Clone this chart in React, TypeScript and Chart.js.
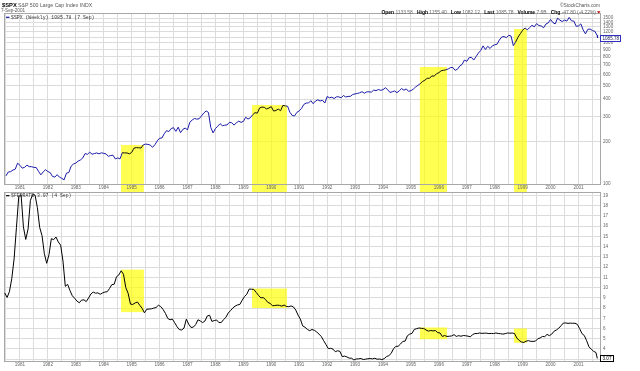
import React, { useEffect, useRef } from 'react';
import { Chart, registerables } from 'chart.js';

Chart.register(...registerables);

// ---------- DATA ----------
const START_YEAR = 1980;
const START_MONTH = 6; // first monthly value is June 1980

// S&P 500 month-end closes, Jun 1980 .. Aug 2001
const spxMonthlyClose = [
  114.24, 121.67, 122.38, 125.46, 127.47, 140.52, 135.76,
  129.55, 131.27, 136.0, 132.81, 132.59, 131.21, 130.92, 122.79, 116.18, 121.89, 126.35, 122.55,
  120.4, 113.11, 111.96, 116.44, 111.88, 109.61, 107.09, 119.51, 120.42, 133.71, 138.54, 140.64,
  145.3, 148.06, 152.96, 164.42, 162.39, 168.11, 162.56, 164.4, 166.07, 163.55, 166.4, 164.93,
  163.41, 157.06, 159.18, 160.05, 150.55, 153.18, 150.66, 166.68, 166.1, 166.09, 163.58, 167.24,
  179.63, 181.18, 180.66, 179.83, 189.55, 191.85, 190.92, 188.63, 182.08, 189.82, 202.17, 211.28,
  211.78, 226.92, 238.9, 235.52, 247.35, 250.84, 236.12, 252.93, 231.32, 243.98, 249.22, 242.17,
  274.08, 284.2, 291.7, 288.36, 290.1, 304.0, 318.66, 329.8, 321.83, 251.79, 230.3, 247.08,
  257.07, 267.82, 258.89, 261.33, 262.16, 273.5, 272.02, 261.52, 271.91, 278.97, 273.7, 277.72,
  297.47, 288.86, 294.87, 309.64, 320.52, 317.98, 346.08, 351.45, 349.15, 340.36, 345.99, 353.4,
  329.08, 331.89, 339.94, 330.8, 361.23, 358.02, 356.15, 322.56, 306.05, 304.0, 322.22, 330.22,
  343.93, 367.07, 375.22, 375.34, 389.83, 371.16, 387.81, 395.43, 387.86, 392.46, 375.22, 417.09,
  408.79, 412.7, 403.69, 414.95, 415.35, 408.14, 424.21, 414.03, 417.8, 418.68, 431.35, 435.71,
  438.78, 443.38, 451.67, 440.19, 450.19, 450.53, 448.13, 463.56, 458.93, 467.83, 461.79, 466.45,
  481.61, 467.14, 445.77, 450.91, 456.5, 444.27, 458.26, 475.49, 462.69, 472.35, 453.69, 459.27,
  470.42, 487.39, 500.71, 514.71, 533.4, 544.75, 562.06, 561.88, 584.41, 581.5, 605.37, 615.93,
  636.02, 640.43, 645.5, 654.17, 669.12, 670.63, 639.95, 651.99, 687.31, 705.27, 757.02, 740.74,
  786.16, 790.82, 757.12, 801.34, 848.28, 885.14, 954.29, 899.47, 947.28, 914.62, 955.4, 970.43,
  980.28, 1049.34, 1101.75, 1111.75, 1090.82, 1133.84, 1120.67, 957.28, 1017.01, 1098.67, 1163.63, 1229.23,
  1279.64, 1238.33, 1286.37, 1335.18, 1301.84, 1372.71, 1328.72, 1320.41, 1282.71, 1362.93, 1388.91, 1469.25,
  1394.46, 1366.42, 1498.58, 1452.43, 1420.6, 1454.6, 1430.83, 1517.68, 1436.51, 1429.4, 1314.95, 1320.28,
  1366.01, 1239.94, 1160.33, 1249.46, 1255.82, 1224.42, 1211.23, 1133.58,
];
const spxLastDate = 2001 + 249 / 365; // 7 Sep 2001
const spxLast = 1085.78;

// Fed funds rate, monthly, Jun 1980 .. Aug 2001
const fedRateMonthly = [
  9.47, 9.03, 9.61, 10.87, 12.81, 15.85, 18.9,
  19.08, 15.93, 14.7, 15.72, 18.52, 19.1, 19.04, 17.82, 15.87, 15.08, 13.31, 12.37,
  13.22, 14.78, 14.68, 14.94, 14.45, 14.15, 12.59, 10.12, 10.31, 9.71, 9.2, 8.95,
  8.68, 8.51, 8.77, 8.8, 8.63, 8.98, 9.37, 9.56, 9.45, 9.48, 9.34, 9.47,
  9.56, 9.59, 9.91, 10.29, 10.32, 11.06, 11.23, 11.64, 11.3, 9.99, 9.43, 8.38,
  8.35, 8.5, 8.58, 8.27, 7.97, 7.53, 7.88, 7.9, 7.92, 7.99, 8.05, 8.27,
  8.14, 7.86, 7.48, 6.99, 6.85, 6.92, 6.56, 6.17, 5.89, 5.85, 6.04, 6.91,
  6.43, 6.1, 6.13, 6.37, 6.85, 6.73, 6.58, 6.73, 7.22, 7.29, 6.69, 6.77,
  6.83, 6.58, 6.58, 6.87, 7.09, 7.51, 7.75, 8.01, 8.19, 8.3, 8.35, 8.76,
  9.12, 9.36, 9.85, 9.84, 9.81, 9.53, 9.24, 8.99, 9.02, 8.84, 8.55, 8.45,
  8.23, 8.24, 8.28, 8.26, 8.18, 8.29, 8.15, 8.13, 8.2, 8.11, 7.81, 7.31,
  6.91, 6.25, 6.12, 5.91, 5.78, 5.9, 5.82, 5.66, 5.45, 5.21, 4.81, 4.43,
  4.03, 4.06, 3.98, 3.73, 3.82, 3.76, 3.25, 3.3, 3.22, 3.1, 3.09, 2.92,
  3.02, 3.03, 3.07, 2.96, 3.0, 3.04, 3.06, 3.03, 3.09, 2.99, 3.02, 2.96,
  3.05, 3.25, 3.34, 3.56, 4.01, 4.25, 4.26, 4.47, 4.73, 4.76, 5.29, 5.45,
  5.53, 5.92, 5.98, 6.05, 6.01, 6.0, 5.85, 5.74, 5.8, 5.76, 5.8, 5.6,
  5.56, 5.22, 5.31, 5.22, 5.24, 5.27, 5.4, 5.22, 5.3, 5.24, 5.31, 5.29,
  5.25, 5.19, 5.39, 5.51, 5.5, 5.56, 5.52, 5.54, 5.54, 5.5, 5.52, 5.5,
  5.56, 5.51, 5.49, 5.45, 5.49, 5.56, 5.54, 5.55, 5.51, 5.07, 4.83, 4.68,
  4.63, 4.76, 4.81, 4.74, 4.74, 4.76, 4.99, 5.07, 5.22, 5.2, 5.42, 5.3,
  5.45, 5.73, 5.85, 6.02, 6.27, 6.53, 6.54, 6.5, 6.52, 6.51, 6.51, 6.4,
  5.98, 5.49, 5.31, 4.8, 4.21, 3.97, 3.77, 3.65,
];
const fedLastDate = 2001 + 246 / 365; // 4 Sep 2001
const fedLast = 3.07;

// axis ticks
const yearLabels = [1981, 1982, 1983, 1984, 1985, 1986, 1987, 1988, 1989, 1990, 1991,
  1992, 1993, 1994, 1995, 1996, 1997, 1998, 1999, 2000, 2001];
const spxTicks = [100, 200, 300, 400, 500, 600, 700, 800, 900, 1000, 1100, 1200, 1300, 1400, 1500];
const spxHiddenLabels = [1100];
const rateTicks = [3, 4, 5, 6, 7, 8, 9, 10, 11, 12, 13, 14, 15, 16, 17, 18, 19];
const rateHiddenLabels = [3];

// highlighted periods
const bandFrom = [1984.62, 1989.31, 1995.32, 1998.69];
const bandTo = [1985.44, 1990.56, 1996.29, 1999.15];
const bandSpxTop = [189, 363, 676, 1256];
const bandRateTop = [11.75, 9.9, 6.1, 6.0];
const bandRateBottom = [7.6, 8.0, 4.95, 4.6];

// header texts
const headSymbol = '$SPX';
const headName = 'S&P 500 Large Cap Index INDX';
const headDate = '7-Sep-2001';
const headCopyright = '\u00A9StockCharts.com';
const headStats: [string, string][] = [
  ['Open', '1133.58'], ['High', '1155.40'], ['Low', '1082.12'], ['Last', '1085.78'],
  ['Volume', '7.6B'], ['Chg', '-47.80 (-4.22%)'],
];
const spxLegend = '$SPX (Weekly) 1085.78 (7 Sep)';
const fedLegend = '$FEDRATE 3.07 (4 Sep)';

// ---------- STYLE ----------
const FONT = "'Liberation Sans', Arial, sans-serif";
const MONO = "'Liberation Mono', 'DejaVu Sans Mono', monospace";
const GRID = '#dcdcdc';
const BORDER = '#a8a8a8';
const TICK = '#666';
const BLUE = '#1a1aa8';
const YELLOW = 'rgba(255,255,0,0.68)';
const TICK_FONT = { family: FONT, size: 4.6 };
const X_MIN = 1980.43;
const X_MAX = 2001.77;

const spxPoints = [
  ...spxMonthlyClose.map((v, i) => ({ x: START_YEAR + (START_MONTH + i) / 12, y: v })),
  { x: spxLastDate, y: spxLast },
];
const fedPoints = [
  ...fedRateMonthly.map((v, i) => ({ x: START_YEAR + (START_MONTH - 1 + i + 0.5) / 12, y: v })),
  { x: fedLastDate, y: fedLast },
];
const gridYears: number[] = [];
yearLabels.forEach((y) => { gridYears.push(y - 0.5, y); });
gridYears.push(yearLabels[yearLabels.length - 1] + 0.5);

const inBand = (x: number) => bandFrom.some((f, i) => x >= f && x <= bandTo[i]);

function xScale(height: number) {
  return {
    type: 'linear' as const,
    min: X_MIN,
    max: X_MAX,
    afterBuildTicks: (s: any) => { s.ticks = gridYears.map((v) => ({ value: v })); },
    afterFit: (s: any) => { s.height = height; },
    ticks: {
      autoSkip: false, maxRotation: 0, minRotation: 0, padding: 1, color: TICK, font: TICK_FONT,
      callback: (v: any) => (Number.isInteger(v) ? String(v) : ''),
    },
    grid: { color: GRID, lineWidth: 1, drawTicks: false },
    border: { display: false },
  };
}

function bandRects(chart: any, kind: 'top' | 'bottom') {
  const { scales } = chart;
  return bandFrom.map((from, i) => {
    const x0 = scales.x.getPixelForValue(from);
    const x1 = scales.x.getPixelForValue(bandTo[i]);
    let y0: number, y1: number;
    if (kind === 'top') {
      y0 = scales.y.getPixelForValue(bandSpxTop[i]);
      y1 = chart.chartArea.bottom;
    } else {
      y0 = scales.y.getPixelForValue(bandRateTop[i]);
      y1 = scales.y.getPixelForValue(bandRateBottom[i]);
    }
    return { x0, x1, y0, y1 };
  });
}

function bandsPlugin(kind: 'top' | 'bottom') {
  return {
    id: 'bands-' + kind,
    beforeDraw(chart: any) {
      // part of the top bands that runs through the date-label row
      if (kind !== 'top') return;
      const { ctx, chartArea } = chart;
      ctx.save();
      ctx.fillStyle = YELLOW;
      bandRects(chart, kind).forEach((r) => {
        ctx.fillRect(r.x0, chartArea.bottom, r.x1 - r.x0, chart.height - chartArea.bottom);
      });
      ctx.restore();
    },
    beforeDatasetsDraw(chart: any) {
      const { ctx } = chart;
      ctx.save();
      ctx.fillStyle = YELLOW;
      bandRects(chart, kind).forEach((r) => {
        ctx.fillRect(r.x0, r.y0, r.x1 - r.x0, r.y1 - r.y0);
      });
      ctx.restore();
    },
  };
}

const borderPlugin = {
  id: 'frame',
  beforeDatasetsDraw(chart: any) {
    const { ctx, chartArea: a } = chart;
    ctx.save();
    ctx.strokeStyle = BORDER;
    ctx.lineWidth = 1;
    ctx.strokeRect(Math.round(a.left) + 0.5, Math.round(a.top) + 0.5,
      Math.round(a.right - a.left), Math.round(a.bottom - a.top));
    ctx.restore();
  },
};

function lastBoxPlugin(value: number, text: string, color: string, width: number) {
  return {
    id: 'lastbox',
    afterDraw(chart: any) {
      const { ctx, chartArea, scales } = chart;
      const y = scales.y.getPixelForValue(value);
      const x = Math.round(chartArea.right) + 0.5;
      ctx.save();
      ctx.fillStyle = '#fff';
      ctx.strokeStyle = color;
      ctx.lineWidth = 1;
      ctx.fillRect(x, Math.round(y - 3) + 0.5, width, 6);
      ctx.strokeRect(x, Math.round(y - 3) + 0.5, width, 6);
      ctx.fillStyle = color === '#000' ? '#000' : '#202060';
      ctx.font = `4.6px ${FONT}`;
      ctx.textBaseline = 'middle';
      ctx.fillText(text, x + 2, Math.round(y - 3) + 3.6);
      ctx.restore();
    },
  };
}

function legendPlugin(text: string, color: string, y: number) {
  return {
    id: 'legendtext',
    afterDraw(chart: any) {
      const { ctx } = chart;
      ctx.save();
      ctx.strokeStyle = color;
      ctx.lineWidth = 1.2;
      ctx.beginPath();
      ctx.moveTo(6, y);
      ctx.lineTo(9.5, y);
      ctx.stroke();
      ctx.fillStyle = '#333';
      ctx.font = `4.8px ${MONO}`;
      ctx.textBaseline = 'middle';
      ctx.fillText(text, 11, y + 0.3);
      ctx.restore();
    },
  };
}

const headerPlugin = {
  id: 'header',
  afterDraw(chart: any) {
    const { ctx } = chart;
    ctx.save();
    ctx.textBaseline = 'middle';
    ctx.fillStyle = '#000';
    ctx.font = `bold 5.8px ${FONT}`;
    ctx.fillText(headSymbol, 2, 5.8);
    ctx.fillStyle = '#555';
    ctx.font = `5.2px ${FONT}`;
    ctx.fillText(headName, 18, 5.8);
    ctx.font = `4.6px ${FONT}`;
    ctx.fillText(headDate, 1, 10.6);
    ctx.textAlign = 'right';
    ctx.font = `4.8px ${FONT}`;
    ctx.fillText(headCopyright, 600, 5.6);
    // stats line
    ctx.textAlign = 'left';
    const boldF = `bold 4.95px ${FONT}`;
    const normF = `4.95px ${FONT}`;
    let total = 0;
    const parts: { t: string; f: string; w: number }[] = [];
    headStats.forEach(([l, v], i) => {
      ctx.font = boldF;
      const lw = ctx.measureText(l + ' ').width;
      parts.push({ t: l, f: boldF, w: lw });
      ctx.font = normF;
      const vt = v + (i < headStats.length - 1 ? '   ' : '');
      const vw = ctx.measureText(vt).width;
      parts.push({ t: vt, f: normF, w: vw });
      total += lw + vw;
    });
    let x = 596 - total;
    parts.forEach((p) => {
      ctx.font = p.f;
      ctx.fillStyle = p.f === boldF ? '#000' : '#666';
      ctx.fillText(p.t, x, 12.3);
      x += p.w;
    });
    ctx.fillStyle = '#c00000';
    ctx.beginPath();
    ctx.moveTo(597, 11.2);
    ctx.lineTo(600.5, 11.2);
    ctx.lineTo(598.75, 13.4);
    ctx.closePath();
    ctx.fill();
    ctx.restore();
  },
};

export default function App() {
  const topRef = useRef<HTMLCanvasElement>(null);
  const botRef = useRef<HTMLCanvasElement>(null);

  useEffect(() => {
    const top = new Chart(topRef.current as HTMLCanvasElement, {
      type: 'line',
      data: {
        datasets: [{
          data: spxPoints as any,
          borderColor: BLUE,
          borderWidth: 1,
          pointRadius: 0,
          tension: 0,
          segment: {
            borderColor: (c: any) => (inBand(c.p0.parsed.x) && inBand(c.p1.parsed.x) ? '#101010' : BLUE),
          },
        }],
      },
      options: {
        responsive: false,
        animation: false,
        devicePixelRatio: 1,
        events: [],
        layout: { padding: { left: 4, top: 13, right: 0, bottom: 0 } },
        plugins: { legend: { display: false }, tooltip: { enabled: false } },
        scales: {
          x: xScale(8) as any,
          y: {
            type: 'logarithmic',
            position: 'right',
            min: 100,
            max: 1632,
            afterBuildTicks: (s: any) => { s.ticks = spxTicks.map((v) => ({ value: v })); },
            afterFit: (s: any) => { s.width = 40; },
            ticks: {
              autoSkip: false, padding: 3, color: TICK, font: TICK_FONT,
              callback: (v: any) => (spxHiddenLabels.includes(v) ? '' : String(v)),
            },
            grid: { color: GRID, drawTicks: false },
            border: { display: false },
          } as any,
        },
      },
      plugins: [bandsPlugin('top'), borderPlugin, headerPlugin,
        legendPlugin(spxLegend, BLUE, 17.3), lastBoxPlugin(spxLast, '1085.78', '#3030c0', 20)],
    });

    const bot = new Chart(botRef.current as HTMLCanvasElement, {
      type: 'line',
      data: {
        datasets: [{
          data: fedPoints as any,
          borderColor: '#000',
          borderWidth: 1,
          pointRadius: 0,
          tension: 0,
        }],
      },
      options: {
        responsive: false,
        animation: false,
        devicePixelRatio: 1,
        events: [],
        layout: { padding: { left: 4, top: 6, right: 0, bottom: 0 } },
        plugins: { legend: { display: false }, tooltip: { enabled: false } },
        scales: {
          x: xScale(10) as any,
          y: {
            type: 'linear',
            position: 'right',
            min: 2.82,
            max: 19.34,
            afterBuildTicks: (s: any) => { s.ticks = rateTicks.map((v) => ({ value: v })); },
            afterFit: (s: any) => { s.width = 40; },
            ticks: {
              autoSkip: false, padding: 3, color: TICK, font: TICK_FONT,
              callback: (v: any) => (rateHiddenLabels.includes(v) ? '' : String(v)),
            },
            grid: { color: GRID, drawTicks: false },
            border: { display: false },
          } as any,
        },
      },
      plugins: [bandsPlugin('bottom'), borderPlugin,
        legendPlugin(fedLegend, '#000', 9.7), lastBoxPlugin(fedLast, '3.07', '#000', 13)],
    });

    return () => { top.destroy(); bot.destroy(); };
  }, []);

  return (
    <div style={{ position: 'absolute', left: 0, top: 0, width: 640, height: 371, background: '#fff', overflow: 'hidden' }}>
      <canvas ref={topRef} width={640} height={192}
        style={{ position: 'absolute', left: 0, top: 0, width: 640, height: 192 }} />
      <canvas ref={botRef} width={640} height={185}
        style={{ position: 'absolute', left: 0, top: 186, width: 640, height: 185 }} />
    </div>
  );
}
